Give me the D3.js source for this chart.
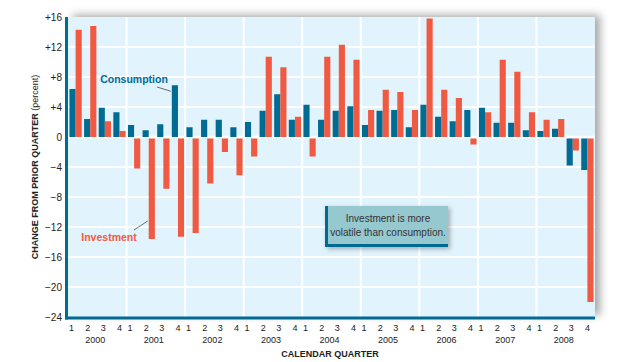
<!DOCTYPE html>
<html>
<head>
<meta charset="utf-8">
<script src="https://cdn.jsdelivr.net/npm/d3@7"></script>
<style>
  body { margin: 0; background: #fff; }
  text { font-family: "Liberation Sans", Arial, sans-serif; }
</style>
</head>
<body>
<svg width="621" height="362"></svg>
<script>
// Data
const years = ['2000', '2001', '2002', '2003', '2004', '2005', '2006', '2007', '2008'];
const quarterLabels = ['1', '2', '3', '4'];
const consumption = [
  6.4, 2.4, 3.9, 3.3,
  1.6, 0.9, 1.7, 6.9,
  1.3, 2.3, 2.3, 1.3,
  2.0, 3.5, 5.7, 2.3,
  4.3, 2.3, 3.5, 4.1,
  1.6, 3.5, 3.6, 1.3,
  4.3, 2.7, 2.1, 3.6,
  3.9, 1.9, 1.9, 0.9,
  0.8, 1.1, -3.8, -4.4,
];
const investment = [
  14.3, 14.8, 2.1, 0.8,
  -4.2, -13.6, -6.9, -13.3,
  -12.8, -6.2, -2.0, -5.1,
  -2.6, 10.7, 9.3, 2.7,
  -2.6, 10.7, 12.3, 10.3,
  3.6, 6.3, 6.0, 3.6,
  15.8, 6.3, 5.2, -1.0,
  3.3, 10.3, 8.7, 3.3,
  2.3, 2.4, -1.8, -22.0,
];
const yTicks = [16, 12, 8, 4, 0, -4, -8, -12, -16, -20, -24];

const quarters = [];
years.forEach(y => quarterLabels.forEach(q => quarters.push(y + 'Q' + q)));

const teal = '#006b93';
const red = '#f15a42';

const svg = d3.select('svg');
const plot = { left: 68, right: 595, top: 17, bottom: 317 };

const x = d3.scaleBand()
  .domain(quarters)
  .range([plot.left, plot.right])
  .paddingInner(0.16)
  .paddingOuter(0.1);
const xYear = d3.scaleBand()
  .domain(years)
  .range([plot.left, plot.right]);
const y = d3.scaleLinear()
  .domain([-24, 16])
  .range([plot.bottom, plot.top]);

const defs = svg.append('defs');
const shadow = defs.append('filter')
  .attr('id', 'shadow')
  .attr('x', '-10%').attr('y', '-10%')
  .attr('width', '120%').attr('height', '120%');
shadow.append('feDropShadow')
  .attr('dx', 5).attr('dy', -2)
  .attr('stdDeviation', 4)
  .attr('flood-color', '#000')
  .attr('flood-opacity', 0.35);
const boxShadow = defs.append('filter')
  .attr('id', 'boxshadow')
  .attr('x', '-20%').attr('y', '-30%')
  .attr('width', '140%').attr('height', '160%');
boxShadow.append('feDropShadow')
  .attr('dx', 2).attr('dy', 2)
  .attr('stdDeviation', 2.5)
  .attr('flood-color', '#000')
  .attr('flood-opacity', 0.3);

// panel
svg.append('rect')
  .attr('x', plot.left).attr('y', plot.top)
  .attr('width', plot.right - plot.left).attr('height', plot.bottom - plot.top)
  .attr('fill', '#e1f3fc')
  .attr('filter', 'url(#shadow)');

// grid
svg.append('g')
  .selectAll('line')
  .data(yTicks.filter(d => d > -24 && d < 16))
  .enter().append('line')
  .attr('x1', plot.left).attr('x2', plot.right)
  .attr('y1', d => y(d)).attr('y2', d => y(d))
  .attr('stroke', '#fff')
  .attr('stroke-width', d => d === 0 ? 2.5 : 2);

svg.append('g')
  .selectAll('line')
  .data(years.slice(1))
  .enter().append('line')
  .attr('x1', d => xYear(d)).attr('x2', d => xYear(d))
  .attr('y1', plot.top).attr('y2', plot.bottom)
  .attr('stroke', '#fff')
  .attr('stroke-width', 2);

// bars
const bw = x.bandwidth() / 2;
const bars = svg.append('g');
bars.selectAll('.cons')
  .data(quarters)
  .enter().append('rect')
  .attr('class', 'cons')
  .attr('x', d => x(d))
  .attr('width', bw)
  .attr('y', (d, i) => consumption[i] >= 0 ? y(consumption[i]) : y(0) + 1.5)
  .attr('height', (d, i) => Math.abs(y(consumption[i]) - y(0)) - (consumption[i] >= 0 ? 0 : 1.5))
  .attr('fill', teal);
bars.selectAll('.inv')
  .data(quarters)
  .enter().append('rect')
  .attr('class', 'inv')
  .attr('x', d => x(d) + bw)
  .attr('width', bw)
  .attr('y', (d, i) => investment[i] >= 0 ? y(investment[i]) : y(0) + 1.5)
  .attr('height', (d, i) => Math.abs(y(investment[i]) - y(0)) - (investment[i] >= 0 ? 0 : 1.5))
  .attr('fill', red);

// axes lines
svg.append('line')
  .attr('x1', plot.left - 1.5).attr('x2', plot.left - 1.5)
  .attr('y1', plot.top).attr('y2', plot.bottom + 2.5)
  .attr('stroke', teal).attr('stroke-width', 3);
svg.append('line')
  .attr('x1', plot.left - 3).attr('x2', plot.right)
  .attr('y1', plot.bottom + 1).attr('y2', plot.bottom + 1)
  .attr('stroke', teal).attr('stroke-width', 3);

// y tick labels
svg.append('g')
  .selectAll('text')
  .data(yTicks)
  .enter().append('text')
  .attr('x', 62)
  .attr('y', d => y(d))
  .attr('dy', '0.35em')
  .attr('text-anchor', 'end')
  .attr('font-size', 10)
  .attr('fill', '#222')
  .text(d => d > 0 ? '+' + d : d < 0 ? '\u2212' + Math.abs(d) : '0');

// x quarter labels
const qOffset = [-4, -2.5, -1.5, 0];
svg.append('g')
  .selectAll('text')
  .data(quarters)
  .enter().append('text')
  .attr('x', (d, i) => x(d) + x.bandwidth() / 2 + qOffset[i % 4])
  .attr('y', 331)
  .attr('text-anchor', 'middle')
  .attr('font-size', 9)
  .attr('fill', '#222')
  .text((d, i) => quarterLabels[i % 4]);

svg.append('g')
  .selectAll('text')
  .data(years)
  .enter().append('text')
  .attr('x', d => xYear(d) + xYear.bandwidth() / 2 - 2)
  .attr('y', 342.5)
  .attr('text-anchor', 'middle')
  .attr('font-size', 9)
  .attr('fill', '#222')
  .text(d => d);

svg.append('text')
  .attr('x', 330)
  .attr('y', 357)
  .attr('text-anchor', 'middle')
  .attr('font-size', 9)
  .attr('font-weight', 'bold')
  .attr('fill', '#222')
  .attr('style', 'font-family: "Liberation Sans Narrow", "Liberation Sans", Arial, sans-serif')
  .text('CALENDAR QUARTER');

// y title
const yTitle = svg.append('text')
  .attr('transform', 'translate(38,167) rotate(-90)')
  .attr('text-anchor', 'middle')
  .attr('font-size', 9)
  .attr('fill', '#222')
  .attr('style', 'font-family: "Liberation Sans Narrow", "Liberation Sans", Arial, sans-serif');
yTitle.append('tspan').attr('font-weight', 'bold').text('CHANGE FROM PRIOR QUARTER ');
yTitle.append('tspan').text('(percent)');

// series labels
svg.append('text')
  .attr('x', 134).attr('y', 83)
  .attr('text-anchor', 'middle')
  .attr('font-size', 10.5)
  .attr('font-weight', 'bold')
  .attr('fill', teal)
  .text('Consumption');
svg.append('line')
  .attr('x1', 157).attr('y1', 87)
  .attr('x2', x('2001Q4') - 1).attr('y2', y(consumption[7]) + 6)
  .attr('stroke', '#333').attr('stroke-width', 0.7);

svg.append('text')
  .attr('x', 109).attr('y', 241)
  .attr('text-anchor', 'middle')
  .attr('font-size', 10.5)
  .attr('font-weight', 'bold')
  .attr('fill', red)
  .text('Investment');
svg.append('line')
  .attr('x1', 134).attr('y1', 230)
  .attr('x2', x('2001Q2') + bw - 1).attr('y2', 221)
  .attr('stroke', '#333').attr('stroke-width', 0.7);

// annotation box
const box = svg.append('g').attr('filter', 'url(#boxshadow)');
box.append('rect')
  .attr('x', 325).attr('y', 206)
  .attr('width', 123).attr('height', 41)
  .attr('fill', '#96c8cf');
box.append('rect')
  .attr('x', 325).attr('y', 206)
  .attr('width', 3).attr('height', 41)
  .attr('fill', teal);
box.append('rect')
  .attr('x', 325).attr('y', 244)
  .attr('width', 123).attr('height', 3)
  .attr('fill', teal);
svg.append('text')
  .attr('x', 388).attr('y', 222)
  .attr('text-anchor', 'middle')
  .attr('font-size', 10)
  .attr('fill', '#333')
  .text('Investment is more');
svg.append('text')
  .attr('x', 388).attr('y', 236)
  .attr('text-anchor', 'middle')
  .attr('font-size', 10)
  .attr('fill', '#333')
  .text('volatile than consumption.');
</script>
</body>
</html>
